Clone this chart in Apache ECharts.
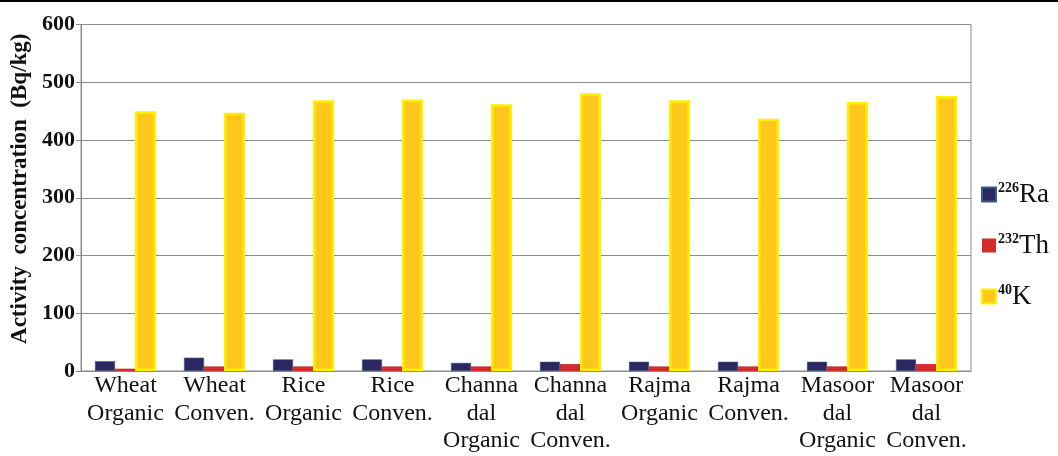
<!DOCTYPE html>
<html><head><meta charset="utf-8">
<script src="https://cdn.jsdelivr.net/npm/echarts@6/dist/echarts.min.js"></script>
<style>html,body{margin:0;padding:0;background:#fff}#c{width:1058px;height:456px}</style>
</head><body><div id="c"></div>
<script>
const categories = ["Wheat\nOrganic","Wheat\nConven.","Rice\nOrganic","Rice\nConven.","Channa\ndal\nOrganic","Channa\ndal\nConven.","Rajma\nOrganic","Rajma\nConven.","Masoor\ndal\nOrganic","Masoor\ndal\nConven."];
const ra226 = [17, 23, 20, 20, 14, 16, 16, 16, 16, 20];
const th232 = [4, 8, 8, 8, 8, 12, 8, 8, 8, 12];
const k40 = [450, 447, 469, 470, 462, 481, 469, 437, 466, 476];
const yTicks = [0, 100, 200, 300, 400, 500, 600];
const legendSup = {"Ra226": ["226", "Ra"], "Th232": ["232", "Th"], "K40": ["40", "K"]};

const serif = '"Liberation Serif","Times New Roman",serif';
const chart = echarts.init(document.getElementById('c'));
chart.setOption({
  animation: false,
  backgroundColor: '#fff',
  graphic: [{type: 'rect', shape: {x: 0, y: 0, width: 1058, height: 2}, style: {fill: '#000'}}],
  grid: {left: 81, right: 87, top: 24.5, bottom: 85, show: true, borderColor: '#8c8c8c', borderWidth: 1, containLabel: false, outerBoundsMode: 'none'},
  legend: {
    orient: 'vertical', left: 976, top: 176, itemWidth: 14, itemHeight: 14, itemGap: 24,
    icon: 'rect',
    data: ['Ra226', 'Th232', 'K40'],
    formatter: n => '{s|' + legendSup[n][0] + '}{m|' + legendSup[n][1] + '}',
    textStyle: {
      padding: [0, 0, 0, -3],
      rich: {
        s: {fontFamily: serif, fontSize: 14, fontWeight: 'bold', color: '#111', verticalAlign: 'top', lineHeight: 26, padding: [0, 0, 7, 0]},
        m: {fontFamily: serif, fontSize: 27, color: '#111', lineHeight: 26}
      }
    }
  },
  xAxis: {
    type: 'category', data: categories,
    axisLine: {lineStyle: {color: '#8c8c8c'}},
    axisTick: {show: false},
    axisLabel: {interval: 0, margin: 1, fontFamily: serif, fontSize: 24, lineHeight: 27.5, color: '#111'}
  },
  yAxis: {
    type: 'value', min: 0, max: 600, interval: 100,
    name: 'Activity  concentration  (Bq/kg)', nameLocation: 'middle', nameGap: 48, nameRotate: 90,
    nameTextStyle: {fontFamily: serif, fontSize: 23, fontWeight: 'bold', color: '#111', padding: [0, 0, 0, 18]},
    axisLine: {show: true, lineStyle: {color: '#8c8c8c'}},
    axisTick: {show: true, length: 5, lineStyle: {color: '#8c8c8c'}},
    axisLabel: {margin: 6, fontFamily: serif, fontSize: 22, fontWeight: 'bold', color: '#111',
      formatter: v => yTicks.includes(v) ? String(v) : ''},
    splitLine: {lineStyle: {color: '#8c8c8c'}}
  },
  series: [
    {name: 'Ra226', type: 'bar', data: ra226, barWidth: 20, barGap: '0%',
      itemStyle: {color: '#2c2760', borderColor: '#3a5a8a', borderWidth: 0.5}},
    {name: 'Th232', type: 'bar', data: th232, barWidth: 20,
      itemStyle: {color: '#d42b2b'}},
    {name: 'K40', type: 'bar', data: k40, barWidth: 21,
      itemStyle: {color: '#ffc61c', borderColor: '#fff000', borderWidth: 2.5}}
  ]
});
</script></body></html>
